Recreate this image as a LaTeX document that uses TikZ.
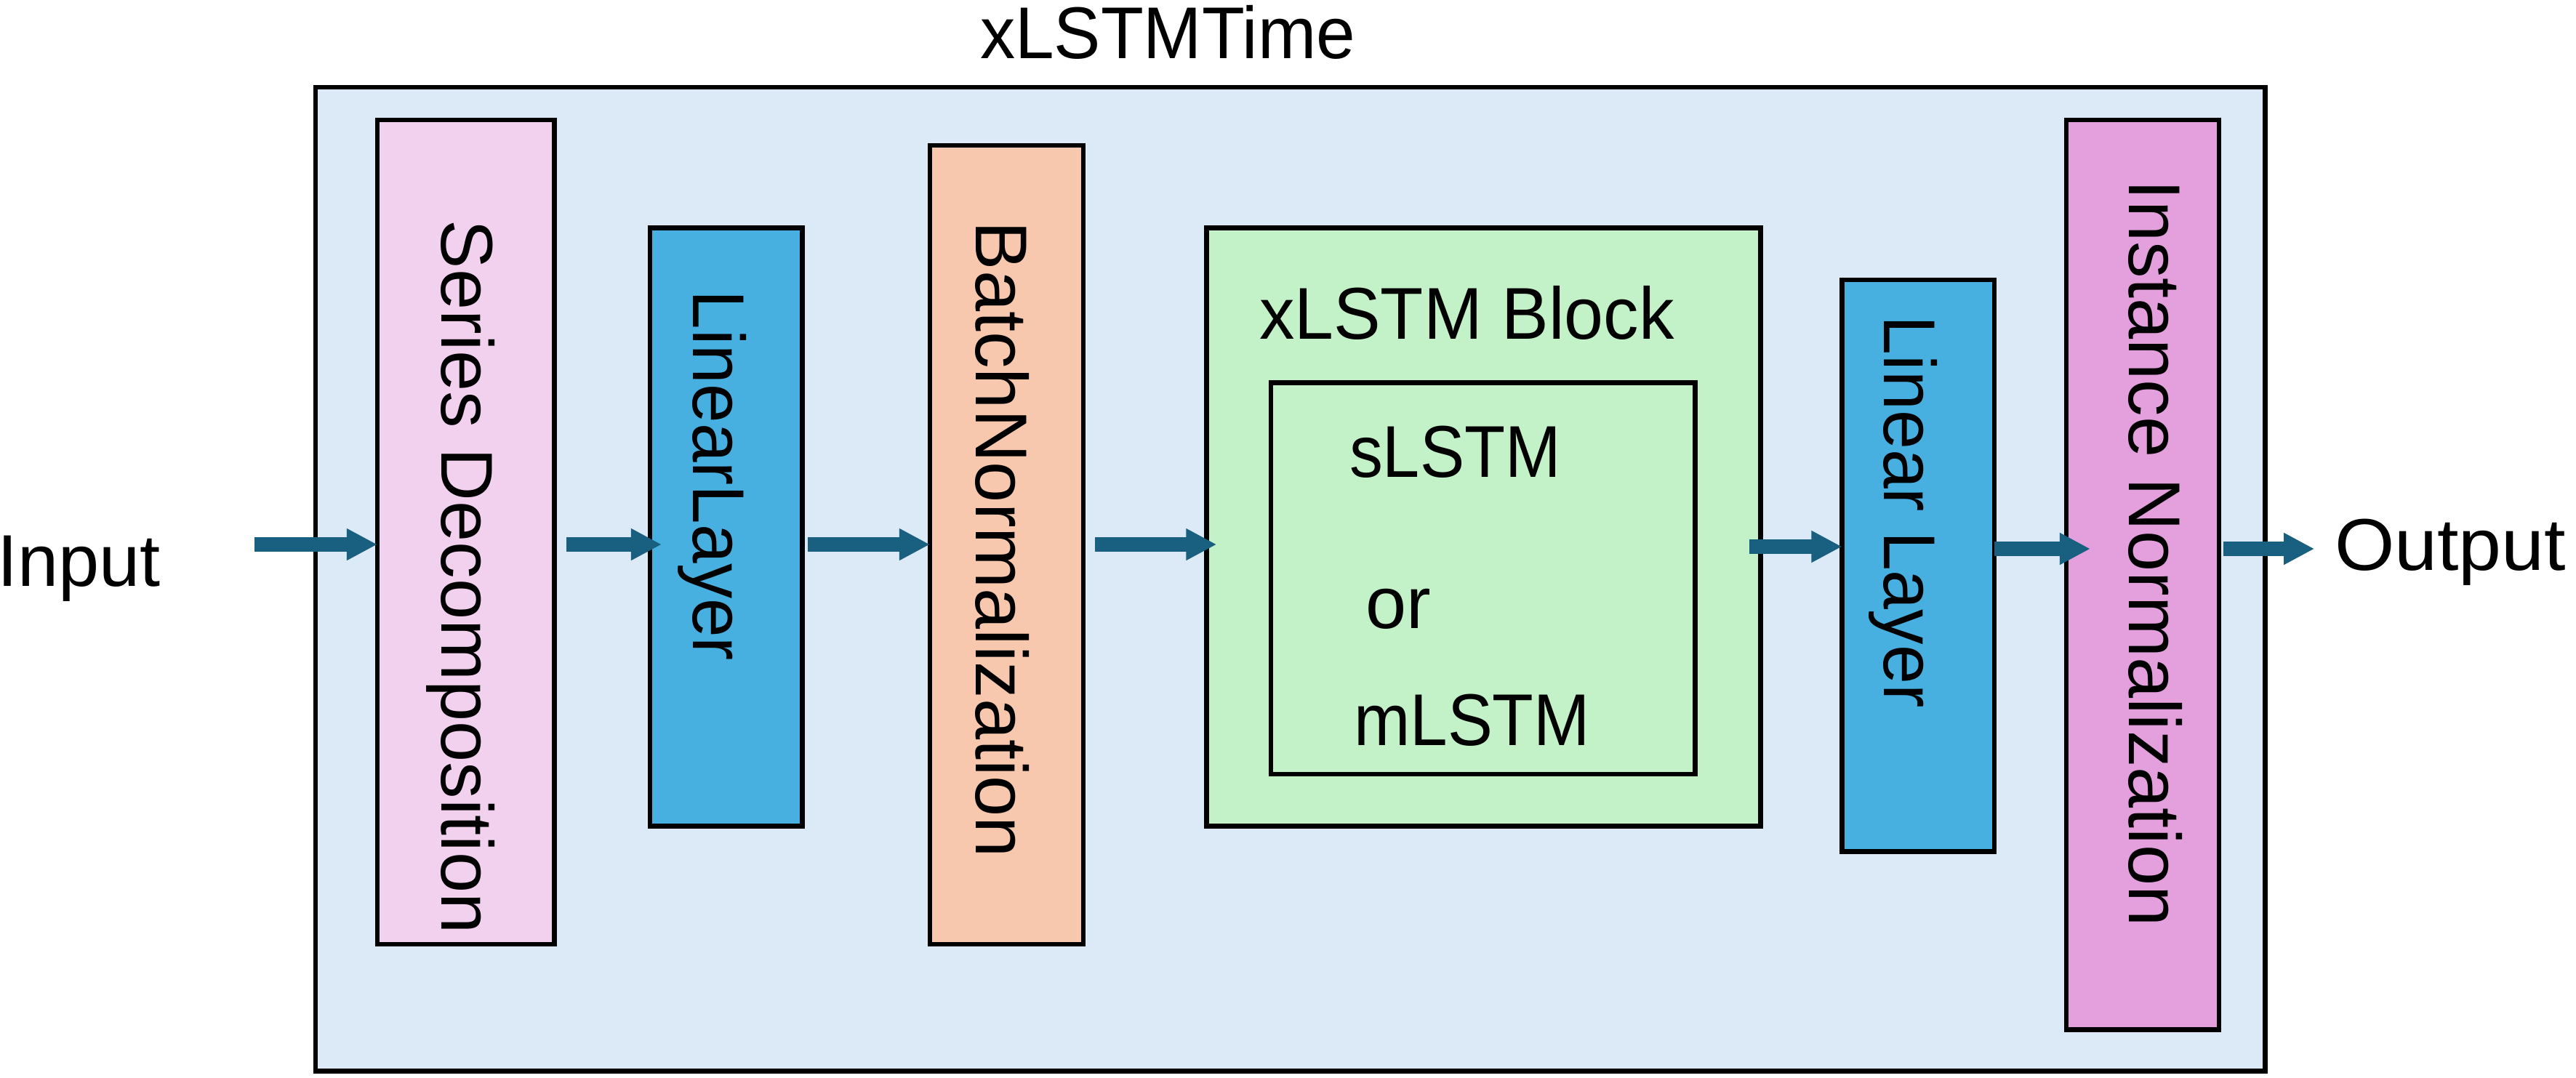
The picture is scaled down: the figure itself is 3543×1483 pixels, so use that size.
\documentclass[tikz,border=0pt]{standalone}
\usepackage{fontspec}
\setmainfont{Liberation Sans}
\usetikzlibrary{arrows.meta}
\definecolor{outerfill}{HTML}{DCE9F6}
\definecolor{seriesfill}{HTML}{F2D1EF}
\definecolor{linfill}{HTML}{47B0E0}
\definecolor{batchfill}{HTML}{F7C7AE}
\definecolor{blockfill}{HTML}{C3F1C8}
\definecolor{instfill}{HTML}{E4A0DD}
\definecolor{arrowc}{HTML}{185F80}
\newcommand\diagfs{\fontsize{28.7pt}{34pt}\selectfont}
\newcommand\hsq[2]{\scalebox{#1}[1]{#2}}
\begin{document}
\begin{tikzpicture}[x=0.01cm,y=-0.01cm,
  box/.style={draw=black,line width=0.065cm,rectangle,inner sep=0pt,outer sep=0pt},
  lbl/.style={inner sep=0pt,outer sep=0pt,anchor=base west,font=\diagfs},
  vlbl/.style={lbl,rotate=-90},
  arr/.style={draw=arrowc,line width=0.2cm,-{Triangle[length=0.42cm,width=0.41cm]}}]
\useasboundingbox (0,0) rectangle (3543,1483);

% outer frame
\node[box,fill=outerfill,minimum width=26.795cm,minimum height=13.525cm] (outer) at (1774.75,796.75) {};
\node[lbl] (title) at (1348,81) {\hsq{0.955}{xLSTMTime}};

% blocks
\node[box,fill=seriesfill,minimum width=2.435cm,minimum height=11.33cm] (series) at (640.75,732) {};
\node[box,fill=linfill,minimum width=2.095cm,minimum height=8.23cm] (lin1) at (998.75,725) {};
\node[box,fill=batchfill,minimum width=2.11cm,minimum height=10.98cm] (batch) at (1384.5,749.5) {};
\node[box,fill=blockfill,minimum width=7.615cm,minimum height=8.23cm] (block) at (2040.25,725) {};
\node[box,fill=blockfill,minimum width=5.835cm,minimum height=5.385cm] (inner) at (2039.75,795.75) {};
\node[box,fill=linfill,minimum width=2.095cm,minimum height=7.865cm] (lin2) at (2638.25,778.25) {};
\node[box,fill=instfill,minimum width=2.10cm,minimum height=12.505cm] (inst) at (2947,790.75) {};

% vertical labels
\node[vlbl] (seriestext) at (607,303) {Series Decomposition};
\node[vlbl] (lin1text) at (953,400) {\hsq{0.955}{LinearLayer}};
\node[vlbl] (batchtext) at (1342,305) {BatchNormalization};
\node[vlbl] (lin2text) at (2591,435) {\hsq{0.96}{Linear Layer}};
\node[vlbl] (insttext) at (2928,248) {Instance Normalization};

% horizontal labels
\node[lbl] (blocktext) at (1732,467) {\hsq{0.96}{xLSTM Block}};
\node[lbl] (stext) at (1856,657) {\hsq{0.91}{sLSTM}};
\node[lbl] (ortext) at (1878,865) {or};
\node[lbl] (mtext) at (1862,1025) {\hsq{0.92}{mLSTM}};
\node[lbl] (input) at (-4,807) {Input};
\node[lbl] (output) at (3211,785) {\hsq{1.05}{Output}};

% arrow start points
\coordinate (s1) at (350,749);
\coordinate (s2) at (779,749);
\coordinate (s3) at (1111,749);
\coordinate (s4) at (1506,749);
\coordinate (s5) at (2406,752);
\coordinate (s6) at (2743,755);
\coordinate (s7) at (3058,755);

\draw[arr] (s1) -- (s1 -| series.west);
\draw[arr] (s2) -- ([xshift=0.16cm]s2 -| lin1.west);
\draw[arr] (s3) -- (s3 -| batch.west);
\draw[arr] (s4) -- ([xshift=0.14cm]s4 -| block.west);
\draw[arr] (s5) -- (s5 -| lin2.west);
\draw[arr] (s6) -- ([xshift=0.33cm]s6 -| inst.west);
\draw[arr] (s7) -- ([xshift=1.31cm]s7 -| inst.east);
\end{tikzpicture}
\end{document}
